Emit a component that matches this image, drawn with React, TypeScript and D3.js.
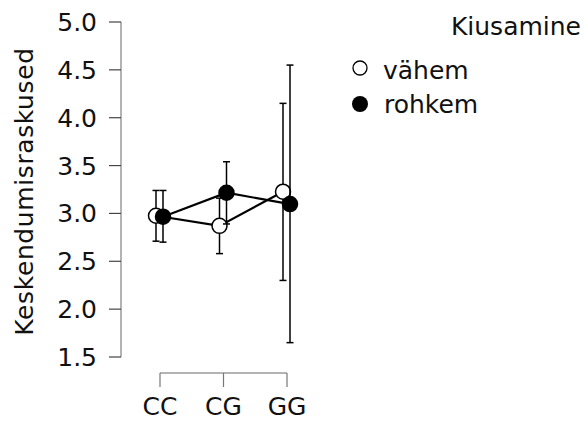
import React from "react";
import * as d3 from "d3";

const categories = ["CC", "CG", "GG"];
const seriesNames = ["vähem", "rohkem"];
const meansVahem = [2.976, 2.87, 3.227];
const lowerVahem = [2.71, 2.58, 2.3];
const upperVahem = [3.24, 3.16, 4.15];
const meansRohkem = [2.966, 3.216, 3.098];
const lowerRohkem = [2.7, 2.89, 1.65];
const upperRohkem = [3.24, 3.54, 4.55];
const yTicks = [1.5, 2.0, 2.5, 3.0, 3.5, 4.0, 4.5, 5.0];
const yLabel = "Keskendumisraskused";
const legendTitle = "Kiusamine";

const W = 584;
const H = 421;
const FONT = "DejaVu Sans, sans-serif";
const FS = 25;

export default function App() {
  const y = d3.scaleLinear().domain([1.5, 5.0]).range([357, 22]);
  const x = d3.scalePoint<string>().domain(categories).range([160, 287]);
  const offsets = [-4, 3];
  const series = [
    { name: seriesNames[0], means: meansVahem, lo: lowerVahem, hi: upperVahem, fill: "#fff" },
    { name: seriesNames[1], means: meansRohkem, lo: lowerRohkem, hi: upperRohkem, fill: "#000" },
  ];
  const line = d3
    .line<[number, number]>()
    .x((d) => d[0])
    .y((d) => d[1]);

  return (
    <svg
      width={W}
      height={H}
      style={{ position: "absolute", left: 0, top: 0, background: "#fff" }}
      fontFamily={FONT}
    >
      {/* y axis */}
      <line x1={121} x2={121} y1={y(5)} y2={y(1.5)} stroke="#9a9a9a" strokeWidth={1.5} />
      {yTicks.map((t) => (
        <g key={t}>
          <line x1={109} x2={121} y1={y(t)} y2={y(t)} stroke="#444" strokeWidth={1.2} />
          <text x={97} y={y(t)} dy="0.36em" textAnchor="end" fontSize={FS} fill="#111">
            {t.toFixed(1)}
          </text>
        </g>
      ))}
      <text
        transform={`translate(33,${(y(5) + y(1.5)) / 2 + 2}) rotate(-90)`}
        textAnchor="middle"
        fontSize={FS}
        letterSpacing={0.6}
        fill="#111"
      >
        {yLabel}
      </text>

      {/* x axis */}
      <line x1={x("CC")!} x2={x("GG")!} y1={373} y2={373} stroke="#9a9a9a" strokeWidth={1.5} />
      {categories.map((c) => (
        <g key={c}>
          <line x1={x(c)!} x2={x(c)!} y1={373} y2={387} stroke="#777" strokeWidth={1.2} />
          <text x={x(c)!} y={415} textAnchor="middle" fontSize={FS} fill="#111">
            {c}
          </text>
        </g>
      ))}

      {/* series */}
      {series.map((s, si) => {
        const pts: [number, number][] = s.means.map((m, i) => [x(categories[i])! + offsets[si], y(m)]);
        return (
          <g key={s.name}>
            {s.means.map((m, i) => {
              const cx = x(categories[i])! + offsets[si];
              return (
                <g key={i} stroke="#000" strokeWidth={1.5}>
                  <line x1={cx} x2={cx} y1={y(s.lo[i])} y2={y(s.hi[i])} />
                  <line x1={cx - 3.5} x2={cx + 3.5} y1={y(s.lo[i])} y2={y(s.lo[i])} />
                  <line x1={cx - 3.5} x2={cx + 3.5} y1={y(s.hi[i])} y2={y(s.hi[i])} />
                </g>
              );
            })}
            <path d={line(pts)!} fill="none" stroke="#000" strokeWidth={2.2} />
            {pts.map((p, i) => (
              <circle key={i} cx={p[0]} cy={p[1]} r={7.5} fill={s.fill} stroke="#000" strokeWidth={1.5} />
            ))}
          </g>
        );
      })}

      {/* legend */}
      <text x={581} y={35} textAnchor="end" fontSize={FS} fill="#111">
        {legendTitle}
      </text>
      <circle cx={360} cy={68} r={7} fill="#fff" stroke="#000" strokeWidth={1.3} />
      <text x={383} y={79} fontSize={FS} fill="#111">
        {seriesNames[0]}
      </text>
      <circle cx={360} cy={104} r={8} fill="#000" />
      <text x={384} y={113} fontSize={FS} fill="#111">
        {seriesNames[1]}
      </text>
    </svg>
  );
}
